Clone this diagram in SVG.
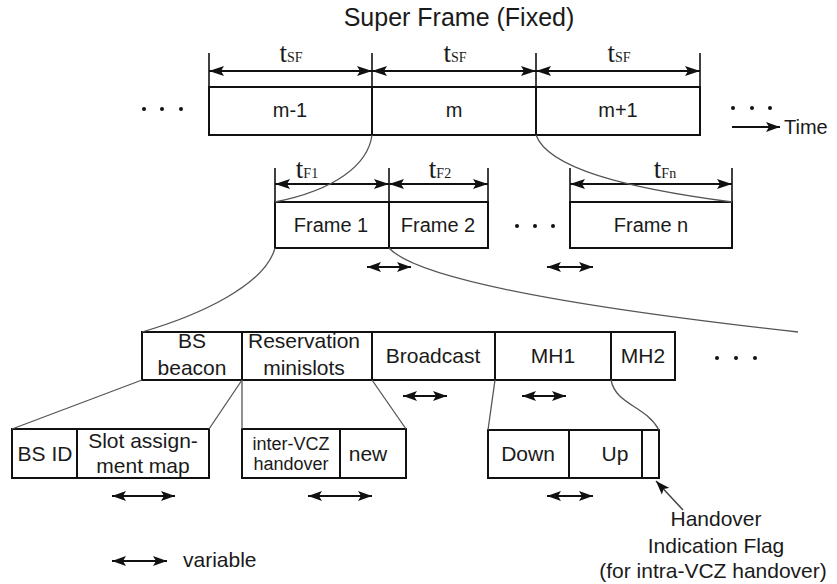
<svg xmlns="http://www.w3.org/2000/svg" width="837" height="584" viewBox="0 0 837 584">
<style>
text{font-family:"Liberation Sans",Arial,sans-serif;fill:#1a1a1a;text-anchor:middle}
.t25{font-size:25px}
.t20{font-size:20px}
.t21{font-size:21px}
.t18{font-size:18px}
.box{fill:#fff;stroke:#111;stroke-width:2}
.tick{stroke:#111;stroke-width:1.6;fill:none}
.dim{stroke:#111;stroke-width:2;fill:none;marker-start:url(#ah);marker-end:url(#ah)}
.var{stroke:#111;stroke-width:2.2;fill:none;marker-start:url(#sh);marker-end:url(#sh)}
.con{stroke:#555;stroke-width:1.3;fill:none}
.dot{fill:#111}
.sym{font-family:"Liberation Serif","Times New Roman",serif;text-anchor:middle}
.big{font-size:27px}
.sub{font-size:14px}
</style>
<defs>
<marker id="ah" viewBox="0 0 15 10" refX="15" refY="5" markerWidth="15" markerHeight="10" markerUnits="userSpaceOnUse" orient="auto-start-reverse">
<path d="M0,0 L15,5 L0,10 L3,5 z" fill="#111"/>
</marker>
<marker id="sh" viewBox="0 0 14 10" refX="14" refY="5" markerWidth="14" markerHeight="10" markerUnits="userSpaceOnUse" orient="auto-start-reverse">
<path d="M0,0 L14,5 L0,10 L3,5 z" fill="#111"/>
</marker>
</defs>

<g id="title"><text class="t25" x="459" y="26">Super Frame (Fixed)</text></g>

<g id="superframe-row">
<line class="tick" x1="209" y1="53" x2="209" y2="87"/>
<line class="tick" x1="372" y1="53" x2="372" y2="87"/>
<line class="tick" x1="536" y1="53" x2="536" y2="87"/>
<line class="tick" x1="700" y1="53" x2="700" y2="87"/>
<line class="dim" x1="209" y1="71" x2="372" y2="71"/>
<line class="dim" x1="372" y1="71" x2="536" y2="71"/>
<line class="dim" x1="536" y1="71" x2="700" y2="71"/>
<text class="sym" x="291" y="62"><tspan class="big">t</tspan><tspan class="sub">SF</tspan></text>
<text class="sym" x="455" y="62"><tspan class="big">t</tspan><tspan class="sub">SF</tspan></text>
<text class="sym" x="619" y="62"><tspan class="big">t</tspan><tspan class="sub">SF</tspan></text>
</g>
<g id="sf-m-1"><rect class="box" x="209" y="87" width="163" height="48"/><text class="t20" x="290" y="117">m-1</text></g>
<g id="sf-m"><rect class="box" x="372" y="87" width="164" height="48"/><text class="t20" x="454" y="117">m</text></g>
<g id="sf-m+1"><rect class="box" x="536" y="87" width="164" height="48"/><text class="t20" x="618" y="117">m+1</text></g>
<g id="dots-top-left"><circle class="dot" cx="144" cy="109" r="2"/><circle class="dot" cx="162" cy="109" r="2"/><circle class="dot" cx="181" cy="109" r="2"/></g>
<g id="dots-top-right"><circle class="dot" cx="733" cy="108" r="2"/><circle class="dot" cx="752" cy="108" r="2"/><circle class="dot" cx="770" cy="108" r="2"/></g>
<g id="time"><line x1="732" y1="127" x2="780" y2="127" stroke="#111" stroke-width="2" marker-end="url(#sh)"/><text class="t20" x="784" y="134" style="text-anchor:start">Time</text></g>

<g id="frame-row">
<line class="tick" x1="275" y1="168" x2="275" y2="202"/>
<line class="tick" x1="389" y1="168" x2="389" y2="202"/>
<line class="tick" x1="488" y1="168" x2="488" y2="202"/>
<line class="tick" x1="570" y1="168" x2="570" y2="202"/>
<line class="tick" x1="732" y1="168" x2="732" y2="202"/>
<line class="dim" x1="275" y1="184" x2="389" y2="184"/>
<line class="dim" x1="389" y1="184" x2="488" y2="184"/>
<line class="dim" x1="570" y1="184" x2="732" y2="184"/>
<text class="sym" x="307" y="178"><tspan class="big">t</tspan><tspan class="sub">F1</tspan></text>
<text class="sym" x="440" y="178"><tspan class="big">t</tspan><tspan class="sub">F2</tspan></text>
<text class="sym" x="665" y="178"><tspan class="big">t</tspan><tspan class="sub">Fn</tspan></text>
<line class="var" x1="367" y1="267" x2="411" y2="267"/>
<line class="var" x1="547" y1="267" x2="593" y2="267"/>
</g>
<g id="frame-1"><rect class="box" x="275" y="202" width="114" height="46"/><text class="t20" x="331" y="232">Frame 1</text></g>
<g id="frame-2"><rect class="box" x="389" y="202" width="99" height="46"/><text class="t20" x="438" y="232">Frame 2</text></g>
<g id="dots-frame"><circle class="dot" cx="517" cy="226" r="2"/><circle class="dot" cx="535" cy="226" r="2"/><circle class="dot" cx="553" cy="226" r="2"/></g>
<g id="frame-n"><rect class="box" x="570" y="202" width="162" height="46"/><text class="t20" x="651" y="232">Frame n</text></g>

<g id="slot-row">
<line class="var" x1="403" y1="396" x2="447" y2="396"/>
<line class="var" x1="522" y1="396" x2="566" y2="396"/>
</g>
<g id="bs-beacon"><rect class="box" x="142" y="332" width="100" height="48"/><text class="t21" x="192" y="348">BS</text><text class="t21" x="192" y="375">beacon</text></g>
<g id="reservation"><rect class="box" x="242" y="332" width="130" height="48"/><text class="t21" x="304" y="348">Reservation</text><text class="t21" x="304" y="375">minislots</text></g>
<g id="broadcast"><rect class="box" x="372" y="332" width="123" height="48"/><text class="t21" x="433" y="363">Broadcast</text></g>
<g id="mh1"><rect class="box" x="495" y="332" width="116" height="48"/><text class="t21" x="553" y="363">MH1</text></g>
<g id="mh2"><rect class="box" x="611" y="332" width="64" height="48"/><text class="t21" x="643" y="363">MH2</text></g>
<g id="dots-bottom"><circle class="dot" cx="717" cy="358" r="2"/><circle class="dot" cx="736" cy="358" r="2"/><circle class="dot" cx="755" cy="358" r="2"/></g>

<g id="bs-id"><rect class="box" x="12" y="429" width="65" height="49"/><text class="t21" x="45" y="461">BS ID</text></g>
<g id="slot-map"><rect class="box" x="77" y="429" width="132" height="49"/><text class="t21" x="143" y="448">Slot assign-</text><text class="t21" x="143" y="473">ment map</text></g>
<g id="inter-vcz"><rect class="box" x="242" y="429" width="98" height="49"/><text class="t18" x="291" y="450">inter-VCZ</text><text class="t18" x="291" y="470">handover</text></g>
<g id="new"><rect class="box" x="340" y="429" width="66" height="49"/><text class="t21" x="368" y="461">new</text></g>
<g id="down"><rect class="box" x="488" y="430" width="81" height="48"/><text class="t21" x="528" y="461">Down</text></g>
<g id="up"><rect class="box" x="569" y="430" width="73" height="48"/><text class="t21" x="615" y="461">Up</text></g>
<g id="flag"><rect class="box" x="642" y="430" width="17" height="48"/></g>
<g id="sub-arrows">
<line class="var" x1="112" y1="496" x2="175" y2="496"/>
<line class="var" x1="308" y1="496" x2="372" y2="496"/>
<line class="var" x1="547" y1="496" x2="593" y2="496"/>
</g>
<g id="flag-label">
<text class="t21" x="716" y="526">Handover</text>
<text class="t21" x="716" y="553">Indication Flag</text>
<text class="t21" x="713" y="578">(for intra-VCZ handover)</text>
</g>
<g id="legend"><line class="var" x1="112" y1="561" x2="167" y2="561"/><text class="t21" x="183" y="567" style="text-anchor:start">variable</text></g>

<g id="connectors">
<path class="con" d="M372,135 C368,165 335,190 275,202"/>
<path class="con" d="M536,135 C548,168 625,188 732,202"/>
<path class="con" d="M275,248 C265,285 200,315 142,332"/>
<path class="con" d="M389,248 C420,282 600,310 798,332"/>
<line class="con" x1="142" y1="380" x2="12" y2="429"/>
<line class="con" x1="242" y1="380" x2="209" y2="429"/>
<line class="con" x1="242" y1="380" x2="242" y2="429"/>
<line class="con" x1="372" y1="380" x2="406" y2="429"/>
<line class="con" x1="495" y1="380" x2="488" y2="430"/>
<path class="con" d="M611,380 C616,405 645,405 659,430"/>
<line x1="683" y1="510" x2="656" y2="481" stroke="#444" stroke-width="1.5" marker-end="url(#sh)"/>
</g>
</svg>
